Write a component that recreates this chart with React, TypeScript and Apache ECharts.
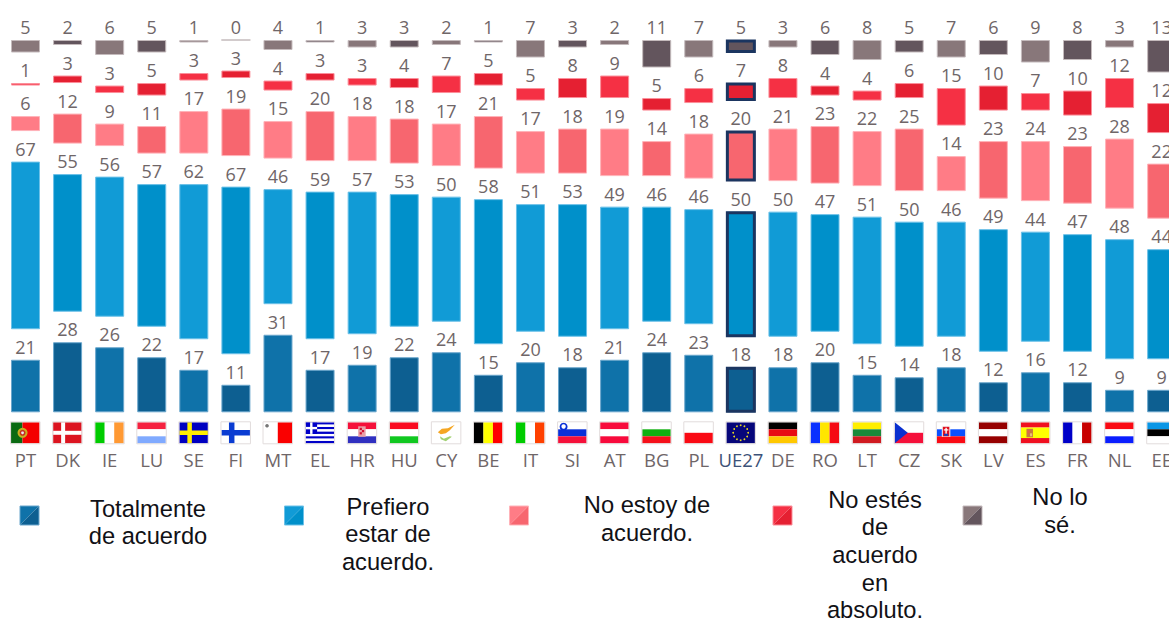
import React, { useEffect, useRef } from "react";
import * as echarts from "echarts";

const countries = ["PT","DK","IE","LU","SE","FI","MT","EL","HR","HU","CY","BE","IT","SI","AT","BG","PL","UE27","DE","RO","LT","CZ","SK","LV","ES","FR","NL","EE"];
const totalmente = [21,28,26,22,17,11,31,17,19,22,24,15,20,18,21,24,23,18,18,20,15,14,18,12,16,12,9,9];
const prefiero = [67,55,56,57,62,67,46,59,57,53,50,58,51,53,49,46,46,50,50,47,51,50,46,49,44,47,48,44];
const noEstoy = [6,12,9,11,17,19,15,20,18,18,17,21,17,18,19,14,18,20,21,23,22,25,14,23,24,23,28,22];
const noEstes = [1,3,3,5,3,3,4,3,3,4,7,5,5,8,9,5,6,7,8,4,4,6,15,10,7,10,12,12];
const noLoSe = [5,2,6,5,1,0,4,1,3,3,2,1,7,3,2,11,7,5,3,6,8,5,7,6,9,8,3,13];
const seriesValues = [totalmente, prefiero, noEstoy, noEstes, noLoSe];
const legendLabels = ["Totalmente\nde acuerdo","Prefiero\nestar de\nacuerdo.","No estoy de\nacuerdo.","No estés\nde\nacuerdo\nen\nabsoluto.","No lo\nsé."];
const seriesNames = ["Totalmente de acuerdo","Prefiero estar de acuerdo.","No estoy de acuerdo.","No estés de acuerdo en absoluto.","No lo sé."];
const lightColors = ["#0f72a9","#119bd6","#ff7c86","#f53044","#88777a"];
const darkColors = ["#0d5f91","#0090ca","#f7666f","#e52032","#63555d"];
const borderLight = ["#6aa6cc","#6cc1e8","#ffb3b9","#fb8f9a","#c4babc"];
const highlight = "UE27";
const navy = "#1b3560";

const legendLayout = [
  { sx: 20, tx: 148, ty: 495 },
  { sx: 284.5, tx: 388, ty: 493 },
  { sx: 509.5, tx: 647, ty: 491.5 },
  { sx: 773, tx: 875, ty: 486 },
  { sx: 963, tx: 1060, ty: 483.5 },
];

const GAP = 12.2;
const W = 28.5, H = 21;
const BL = "#0000c8";

type Stripes = [string, string[], number[]?];
const flagStripes: Record<string, Stripes> = {
  PT: ["v", ["#0a6a12", "#f40000"], [0.4, 0.6]],
  DK: ["v", ["#dc1420"]],
  IE: ["v", ["#00cc00", "#ffffff", "#ff9933"]],
  LU: ["h", ["#f5213f", "#ffffff", "#80aaff"]],
  SE: ["v", ["#0000c0"]],
  FI: ["v", ["#ffffff"]],
  MT: ["v", ["#ffffff", "#fa0000"]],
  EL: ["h", [BL, "#fff", BL, "#fff", BL, "#fff", BL, "#fff", BL]],
  HR: ["h", ["#f5103a", "#ffffff", "#3030c0"]],
  HU: ["h", ["#fa0a20", "#ffffff", "#10c820"]],
  CY: ["v", ["#ffffff"]],
  BE: ["v", ["#000000", "#ffff00", "#ff0000"]],
  IT: ["v", ["#00cc00", "#ffffff", "#ff4000"]],
  SI: ["h", ["#ffffff", "#0a30d8", "#f5103a"]],
  AT: ["h", ["#f80a3c", "#ffffff", "#f80a3c"]],
  BG: ["h", ["#ffffff", "#10b010", "#f5101a"]],
  PL: ["h", ["#ffffff", "#fa0a14"]],
  UE27: ["v", ["#06067a"]],
  DE: ["h", ["#000000", "#e80a14", "#ffc800"]],
  RO: ["v", ["#0a30ff", "#ffe600", "#f50a14"]],
  LT: ["h", ["#ffee00", "#1a8a3a", "#d01a20"]],
  CZ: ["h", ["#ffffff", "#f5103a"]],
  SK: ["h", ["#ffffff", "#0a50ff", "#fa0a14"]],
  LV: ["h", ["#960000", "#ffffff", "#960000"]],
  ES: ["h", ["#f01020", "#ffff00", "#f01020"], [0.25, 0.5, 0.25]],
  FR: ["v", ["#0000c8", "#ffffff", "#c80000"]],
  NL: ["h", ["#fa0a14", "#ffffff", "#0a1eff"]],
  EE: ["h", ["#0a96e6", "#000000", "#ffffff"]],
};

const rect = (x: number, y: number, width: number, height: number, fill: string) => ({
  type: "rect", shape: { x, y, width, height }, style: { fill },
});
const circ = (cx: number, cy: number, r: number, fill: string) => ({
  type: "circle", shape: { cx, cy, r }, style: { fill },
});
const poly = (points: number[][], fill: string) => ({ type: "polygon", shape: { points }, style: { fill } });

function flagExtras(code: string): any[] {
  switch (code) {
    case "PT": return [circ(11.5, 10.5, 5, "#c8b020"), circ(11.5, 10.5, 3, "#c83020"), circ(11.5, 10.5, 1.4, "#e8e8f0")];
    case "DK": return [rect(8, 0, 4, H, "#fff"), rect(0, 8.5, W, 4, "#fff")];
    case "SE": return [rect(8, 0, 4.5, H, "#ffee00"), rect(0, 8.2, W, 4.5, "#ffee00")];
    case "FI": return [rect(7.5, 0, 5.5, H, "#0a3cd2"), rect(0, 7.7, W, 5.5, "#0a3cd2")];
    case "MT": return [circ(3.5, 3.5, 1.8, "#777")];
    case "EL": return [rect(0, 0, 11.5, 11.6, BL), rect(4.5, 0, 2.4, 11.6, "#fff"), rect(0, 4.6, 11.5, 2.4, "#fff")];
    case "HR": return [rect(10.5, 4, 7.5, 10.5, "#e8a0a8"), rect(12, 5.5, 2.2, 2.2, "#d01030"), rect(14.2, 7.7, 2.2, 2.2, "#d01030"), rect(12, 9.9, 2.2, 2.2, "#d01030")];
    case "CY": return [
      poly([[6, 10], [10, 6.5], [16, 6], [23, 2.5], [18, 8], [14, 11], [9, 12]], "#f5a623"),
      poly([[8, 14], [12, 16.5], [18, 14], [20, 14.5], [14, 19], [9, 17]], "#a0d070"),
    ];
    case "SI": return [circ(5.5, 4.5, 4, "#0a30d8"), circ(5.5, 4.2, 2.2, "#fff")];
    case "UE27": {
      const stars: any[] = [];
      for (let k = 0; k < 12; k++) {
        const a = (k * Math.PI) / 6;
        stars.push(circ(W / 2 + 7.5 * Math.cos(a), H / 2 + 7.5 * Math.sin(a), 0.9, "#e8d820"));
      }
      return stars;
    }
    case "CZ": return [poly([[0, 0], [13, 10.5], [0, 21]], "#0a30d0")];
    case "SK": return [rect(5, 3.5, 8.5, 11, "#f5f5f5"), rect(6, 4.5, 6.5, 9.5, "#e01020"), rect(8.6, 5.5, 1.4, 6, "#fff"), rect(7, 7, 4.6, 1.2, "#fff"), rect(7.2, 11.5, 4.2, 2, "#1040c0")];
    case "ES": return [rect(5.5, 6.5, 6.5, 8.5, "#c87840"), rect(6.5, 8, 2.2, 3, "#e06050"), rect(9, 11, 2.2, 3, "#e8c070")];
    default: return [];
  }
}

function buildFlag(code: string): any[] {
  const [dir, colors, weights] = flagStripes[code];
  const out: any[] = [];
  let pos = 0;
  colors.forEach((c, k) => {
    const w = weights ? weights[k] : 1 / colors.length;
    if (dir === "h") out.push(rect(0, pos * H, W, w * H, c));
    else out.push(rect(pos * W, 0, w * W, H, c));
    pos += w;
  });
  out.push(...flagExtras(code));
  out.push({ type: "rect", shape: { x: -0.5, y: -0.5, width: W + 1, height: H + 1 }, style: { fill: "none", stroke: "#e2dcdc", lineWidth: 1 } });
  return out;
}

function barSeries() {
  const out: any[] = [];
  seriesValues.forEach((vals, s) => {
    out.push({
      name: seriesNames[s],
      type: "bar",
      stack: "total",
      barWidth: 29,
      data: vals.map((v, i) => ({
        value: v,
        itemStyle: {
          color: i % 2 ? darkColors[s] : lightColors[s],
          borderColor: borderLight[s],
          borderWidth: 1,
        },
      })),
      label: {
        show: true,
        position: "top",
        distance: 4,
        color: "#6f6668",
        fontFamily: "Open Sans",
        fontSize: 18,
      },
    });
    if (s < seriesValues.length - 1) {
      out.push({
        name: "gap" + s,
        type: "bar",
        stack: "total",
        silent: true,
        data: vals.map(() => GAP),
        itemStyle: { color: "transparent" },
        label: { show: false },
      });
    }
  });
  return out;
}

export default function App() {
  const ref = useRef<HTMLDivElement>(null);
  useEffect(() => {
    const chart = echarts.init(ref.current!, undefined, { renderer: "svg" });
    const legendGraphics: any[] = [];
    legendLabels.forEach((text, s) => {
      const l = legendLayout[s];
      legendGraphics.push({
        type: "polygon", silent: true, shape: { points: [[l.sx, 506], [l.sx + 19, 506], [l.sx, 525]] },
        style: { fill: lightColors[s] },
      });
      legendGraphics.push({
        type: "polygon", silent: true, shape: { points: [[l.sx + 19, 506], [l.sx + 19, 525], [l.sx, 525]] },
        style: { fill: darkColors[s] },
      });
      legendGraphics.push({
        type: "rect", silent: true, shape: { x: l.sx, y: 506, width: 19, height: 19 },
        style: { fill: "none", stroke: borderLight[s], lineWidth: 1 },
      });
      legendGraphics.push({
        type: "text", silent: true,
        style: {
          text, x: l.tx, y: l.ty, align: "center", textAlign: "center", verticalAlign: "top", textVerticalAlign: "top",
          font: '23.7px "Liberation Sans"', lineHeight: 27.6, fill: "#111116",
        },
      });
    });

    const hIndex = countries.indexOf(highlight);
    chart.setOption({
      animation: false,
      backgroundColor: "#ffffff",
      grid: { left: 4.46, top: 40, width: 28 * 42.08, height: 372.3, containLabel: false },
      xAxis: {
        type: "category",
        data: countries,
        axisLine: { show: false },
        axisTick: { show: false },
        axisLabel: {
          interval: 0,
          margin: 38,
          fontFamily: "Open Sans",
          fontSize: 18.5,
          color: (v: string) => (v === highlight ? "#3d5278" : "#6f6668"),
        },
      },
      yAxis: { type: "value", min: 0, max: 100 + 4 * GAP, show: false, splitLine: { show: false } },
      series: [
        ...barSeries(),
        {
          type: "custom",
          name: "flags",
          silent: true,
          data: countries.map((_, i) => [i]),
          encode: { x: 0 },
          clip: false,
          renderItem: (_: any, api: any) => {
            const i = api.value(0);
            const p = api.coord([i, 0]);
            return { type: "group", x: p[0] - W / 2 - 0.2, y: p[1] + 10, children: buildFlag(countries[i]) };
          },
        },
        {
          type: "custom",
          name: "highlight",
          silent: true,
          z: 10,
          data: [[hIndex]],
          encode: { x: 0 },
          clip: false,
          renderItem: (_: any, api: any) => {
            const i = api.value(0);
            let base = 0;
            const children = seriesValues.map((vals) => {
              const a = api.coord([i, base]);
              const b = api.coord([i, base + vals[i]]);
              base += vals[i] + GAP;
              return {
                type: "rect",
                z2: 10,
                shape: { x: a[0] - 13.5, y: b[1] + 1, width: 27, height: a[1] - b[1] - 2 },
                style: { fill: "none", stroke: navy, lineWidth: 3, opacity: 1 },
              };
            });
            return { type: "group", children };
          },
        },
      ],
      graphic: { elements: legendGraphics },
    });
    return () => chart.dispose();
  }, []);
  return (
    <div style={{ position: "absolute", left: 0, top: 0, width: 1169, height: 619, overflow: "hidden" }}>
      <div ref={ref} style={{ width: 1200, height: 619 }} />
    </div>
  );
}
